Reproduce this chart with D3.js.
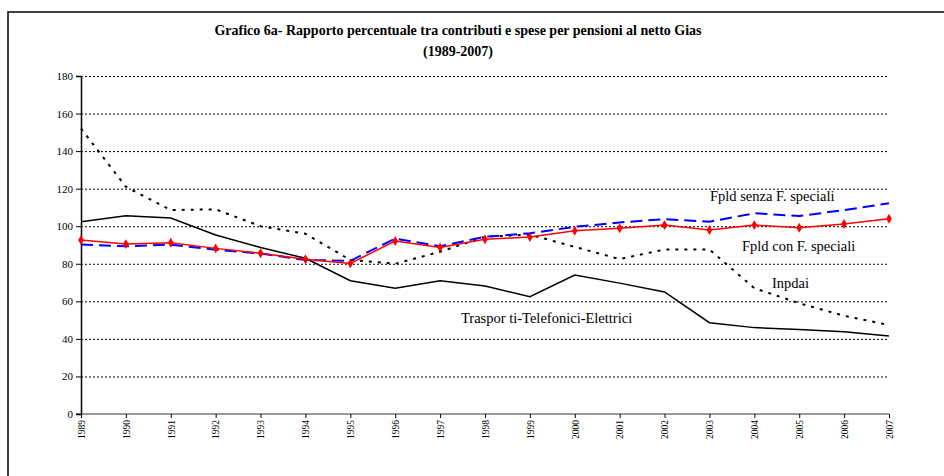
<!DOCTYPE html>
<html>
<head>
<meta charset="utf-8">
<script src="https://cdn.jsdelivr.net/npm/d3@7"></script>
<style>
  body { margin: 0; background: #fff; }
  svg { display: block; }
  text { font-family: "Times New Roman", "Liberation Serif", serif; }
  .grid line { stroke: #000; stroke-dasharray: 2,2; stroke-width: 1; }
  .grid path { display: none; }
</style>
</head>
<body>
<script>
// chart data
var years = [1989,1990,1991,1992,1993,1994,1995,1996,1997,1998,1999,2000,2001,2002,2003,2004,2005,2006,2007];
var fpldSenza = [90.2,89.3,90.2,87.5,85.5,82.0,81.6,93.4,89.4,94.4,96.2,99.7,102.0,103.8,102.4,106.9,105.4,108.6,112.2];
var fpldCon   = [92.6,90.5,91.2,88.2,85.6,82.4,80.2,92.1,88.7,93.0,94.2,97.6,98.9,100.6,98.0,100.6,99.2,101.2,104.0];
var inpdai    = [152,121,108.6,109,100,96,82,80,86.4,94.4,95.5,89,82.5,87.6,87.6,67,59,52.3,47.4];
var trasporti = [102.4,105.6,104.4,95.3,88.7,82.9,71,67,71,68.2,62.5,74,69.7,65,48.6,46,45,43.8,41.5];
var yTicks = [0,20,40,60,80,100,120,140,160,180];

var W = 944, H = 476;
var margin = {top: 76, right: 55, bottom: 62, left: 81},
    width = W - margin.left - margin.right,
    height = H - margin.top - margin.bottom;

var svg = d3.select("body").append("svg")
    .attr("width", W)
    .attr("height", H);

// outer frame
svg.append("rect")
    .attr("x", 8).attr("y", 12)
    .attr("width", 950).attr("height", 500)
    .attr("fill", "none")
    .attr("stroke", "#000")
    .attr("stroke-width", 1.5);

// title
svg.append("text")
    .attr("x", 458).attr("y", 35)
    .attr("text-anchor", "middle")
    .style("font-weight", "bold")
    .style("font-size", "14px")
    .text("Grafico 6a-  Rapporto percentuale tra contributi e spese per pensioni  al netto Gias");
svg.append("text")
    .attr("x", 458).attr("y", 56)
    .attr("text-anchor", "middle")
    .style("font-weight", "bold")
    .style("font-size", "14px")
    .text("(1989-2007)");

var g = svg.append("g")
    .attr("transform", "translate(" + margin.left + "," + margin.top + ")");

var x = d3.scaleLinear().domain([1989, 2007]).range([0, width]);
var y = d3.scaleLinear().domain([0, 180]).range([height, 0]);

// gridlines
g.append("g")
    .attr("class", "grid")
    .call(d3.axisLeft(y).tickValues(yTicks.slice(1)).tickSize(-width).tickFormat(""));

// x axis
var xAxis = g.append("g")
    .attr("transform", "translate(0," + height + ")")
    .call(d3.axisBottom(x).tickValues(years).tickSize(4).tickFormat(d3.format("d")));
xAxis.select(".domain").attr("stroke", "#777").attr("stroke-width", 1.5).attr("d", "M-5,0H" + width);
xAxis.selectAll(".tick line").attr("stroke", "#000");
xAxis.selectAll("text")
    .attr("transform", "rotate(-90)")
    .attr("x", -6).attr("y", 0).attr("dy", "0.35em")
    .style("text-anchor", "end")
    .style("font-size", "9.5px")
    .style("font-family", "'Times New Roman', serif");

// y axis
var yAxis = g.append("g")
    .call(d3.axisLeft(y).tickValues(yTicks).tickSize(5).tickFormat(d3.format("d")));
yAxis.select(".domain").attr("stroke", "#000").attr("stroke-width", 1.5);
yAxis.selectAll("text")
    .attr("x", -8)
    .style("font-size", "11px")
    .style("font-family", "'Times New Roman', serif");

function series(vals) {
  return years.map(function(yr, i) { return {year: yr, v: vals[i]}; });
}
var line = d3.line()
    .x(function(d) { return x(d.year); })
    .y(function(d) { return y(d.v); });

g.append("path").datum(series(trasporti))
    .attr("d", line).attr("fill", "none")
    .attr("stroke", "#000").attr("stroke-width", 1.5);

g.append("path").datum(series(inpdai))
    .attr("d", line).attr("fill", "none")
    .attr("stroke", "#000").attr("stroke-width", 2)
    .attr("stroke-dasharray", "3,6");

g.append("path").datum(series(fpldSenza))
    .attr("d", line).attr("fill", "none")
    .attr("stroke", "#0000ff").attr("stroke-width", 2)
    .attr("stroke-dasharray", "12,6");

g.append("path").datum(series(fpldCon))
    .attr("d", line).attr("fill", "none")
    .attr("stroke", "#ff0000").attr("stroke-width", 1.5);

g.selectAll(".mk").data(series(fpldCon)).enter().append("path")
    .attr("class", "mk")
    .attr("transform", function(d) { return "translate(" + x(d.year) + "," + y(d.v) + ")"; })
    .attr("d", d3.symbol().type(d3.symbolDiamond).size(28))
    .attr("fill", "#ff0000");

// series labels
var labels = [
  {t: "Fpld senza F. speciali", x: 710, y: 201},
  {t: "Fpld con F. speciali", x: 742, y: 251},
  {t: "Inpdai", x: 772, y: 288},
  {t: "Traspor ti-Telefonici-Elettrici", x: 461, y: 323}
];
svg.selectAll(".lbl").data(labels).enter().append("text")
    .attr("class", "lbl")
    .attr("x", function(d) { return d.x; })
    .attr("y", function(d) { return d.y; })
    .style("font-size", "14.5px")
    .text(function(d) { return d.t; });
</script>
</body>
</html>
